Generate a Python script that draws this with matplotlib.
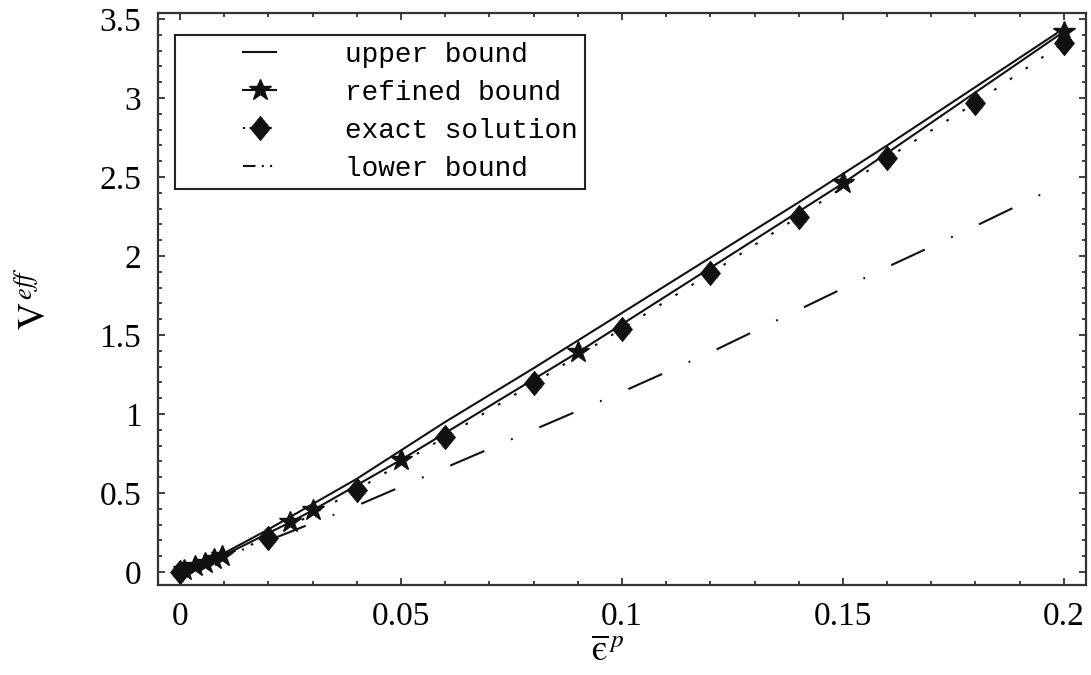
import numpy as np
import matplotlib
matplotlib.use("Agg")
import matplotlib.pyplot as plt
from matplotlib.lines import Line2D
from matplotlib.path import Path
from matplotlib.legend_handler import HandlerLine2D

# Effective stress V^eff versus equivalent plastic strain
eps_upper = [0.0, 0.01, 0.02, 0.04, 0.06, 0.08, 0.10, 0.12, 0.14, 0.16, 0.18, 0.20]
v_upper = [0.0, 0.12, 0.27, 0.59, 0.95, 1.29, 1.64, 1.99, 2.34, 2.70, 3.07, 3.44]

eps_refined = [0.001, 0.0035, 0.0057, 0.0077, 0.0095, 0.025, 0.03, 0.05, 0.09, 0.15, 0.20]
v_refined = [0.01, 0.036, 0.06, 0.082, 0.10, 0.316, 0.39, 0.71, 1.39, 2.46, 3.42]

eps_exact = [0.0, 0.02, 0.04, 0.06, 0.08, 0.10, 0.12, 0.14, 0.16, 0.18, 0.20]
v_exact = [0.0, 0.215, 0.52, 0.855, 1.195, 1.54, 1.89, 2.25, 2.62, 2.97, 3.35]

eps_lower = [0.0, 0.01, 0.02, 0.03, 0.04, 0.06, 0.08, 0.10, 0.12, 0.14, 0.16, 0.18, 0.20]
v_lower = [0.0, 0.10, 0.20, 0.31, 0.42, 0.66, 0.90, 1.14, 1.39, 1.66, 1.93, 2.19, 2.46]

labels = ["upper bound", "refined bound", "exact solution", "lower bound"]
x_ticks = [0, 0.05, 0.1, 0.15, 0.2]
x_ticklabels = ["0", "0.05", "0.1", "0.15", "0.2"]
y_ticks = [0, 0.5, 1, 1.5, 2, 2.5, 3, 3.5]
y_ticklabels = ["0", "0.5", "1", "1.5", "2", "2.5", "3", "3.5"]

plt.rcParams["mathtext.fontset"] = "stix"
serif = "Liberation Serif"
mono = "Liberation Mono"
ink = "#111111"

# slightly tall diamond marker
diamond = Path([(0, 1.0), (0.82, 0.0), (0, -1.0), (-0.82, 0.0), (0, 1.0)],
               [Path.MOVETO, Path.LINETO, Path.LINETO, Path.LINETO, Path.CLOSEPOLY])

fig = plt.figure(figsize=(10.91, 6.75), dpi=100)
ax = fig.add_axes([0.1448, 0.1333, 0.8506, 0.8474])

lw = 1.5
star_ms = 16.5
dia_ms = 17.5
ax.plot(eps_upper, v_upper, color=ink, lw=lw, solid_capstyle="butt")
ax.plot(eps_refined, v_refined, color=ink, lw=lw, marker="*", ms=star_ms,
        markeredgewidth=1.0)
ax.plot(eps_exact, v_exact, color=ink, lw=lw, dashes=(1.3, 7.8),
        marker=diamond, ms=dia_ms, markeredgewidth=0.6)
ax.plot(eps_lower, v_lower, color=ink, lw=lw, dashes=(17.8, 13.9, 0.9, 13.9))

ax.set_xlim(-0.00498, 0.205)
ax.set_ylim(-0.082, 3.538)
ax.set_xticks(x_ticks)
ax.set_xticklabels(x_ticklabels)
ax.set_yticks(y_ticks)
ax.set_yticklabels(y_ticklabels)
ax.set_xticks(np.arange(0, 0.2001, 0.01), minor=True)
ax.set_yticks(np.arange(0, 3.501, 0.1), minor=True)
ax.tick_params(which="both", direction="in", top=True, right=True,
               color="#333333", width=1.3)
ax.tick_params(which="major", length=5, pad=12, labelsize=24)
ax.tick_params(which="minor", length=3)
for lab in ax.get_xticklabels() + ax.get_yticklabels():
    lab.set_family(serif)
for sp in ax.spines.values():
    sp.set_linewidth(1.6)
    sp.set_color("#333333")

ax.set_xlabel("$\\overline{\\mathrm{\u03f5}}^{\\,p}$", fontsize=26)
ax.xaxis.set_label_coords(0.485, -0.085)
ax.set_ylabel(r"$\mathrm{V}^{\,eff}$", fontsize=27)
ax.yaxis.set_label_coords(-0.112, 0.5)


class ShortLineHandler(HandlerLine2D):
    """Draws a short line segment centred in a wider handle box."""

    def get_xdata(self, legend, xdescent, ydescent, width, height, fontsize):
        c = -xdescent + width / 2.0
        half = 0.6 * fontsize
        return np.array([c - half, c + half]), np.array([c])


handles = [
    Line2D([], [], color=ink, lw=lw),
    Line2D([], [], color=ink, lw=lw, marker="*", ms=star_ms, markeredgewidth=1.0),
    Line2D([], [], color=ink, lw=lw, dashes=(1.0, 2.2), marker=diamond, ms=dia_ms,
           markeredgewidth=0.6),
    Line2D([], [], color=ink, lw=lw, dashes=(6, 3, 1.0, 3, 1.0, 3)),
]
leg = ax.legend(handles, labels, loc="upper left",
                bbox_to_anchor=(0.0183, 0.9615), borderaxespad=0,
                prop={"family": mono, "size": 20}, frameon=True,
                fancybox=False, framealpha=1, edgecolor="#222222",
                borderpad=0.25, handlelength=5.6, handletextpad=0.28,
                labelspacing=0.43, numpoints=1,
                handler_map={Line2D: ShortLineHandler()})
leg.get_frame().set_linewidth(1.5)

fig.savefig("out.png", dpi=100, facecolor="white")
